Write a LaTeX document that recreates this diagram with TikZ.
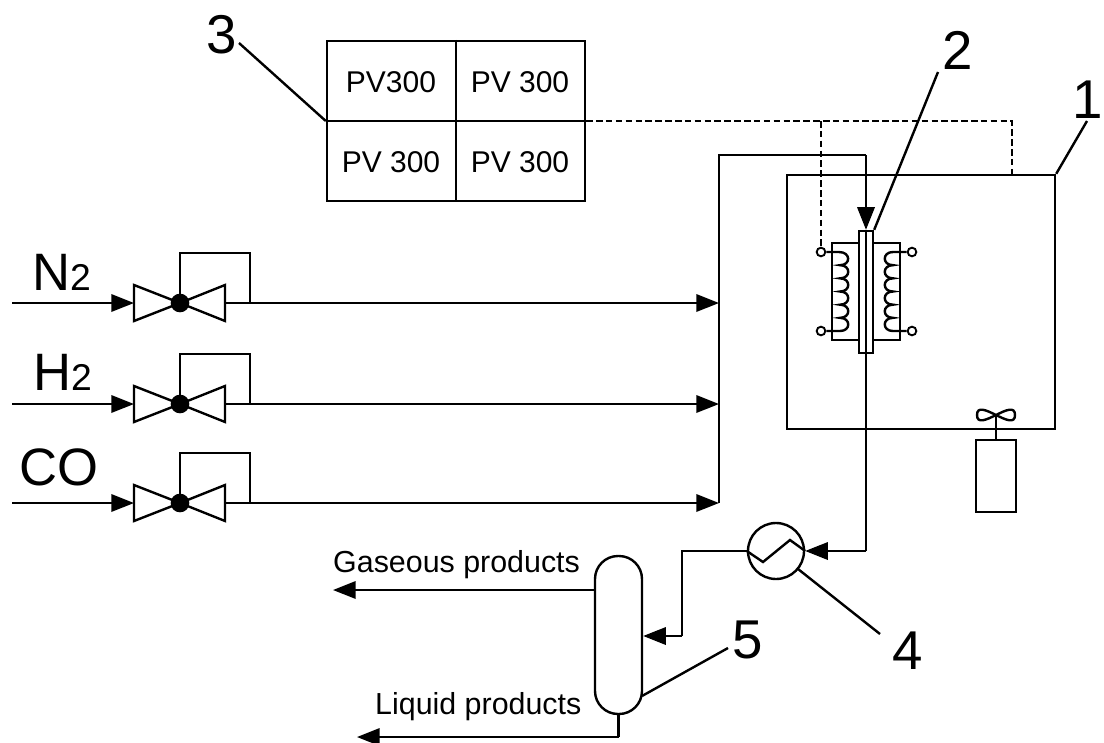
\documentclass[tikz,border=0pt]{standalone}
\usepackage{fontspec}
\setmainfont{Liberation Sans}
\usetikzlibrary{arrows.meta}
\tikzset{
  every path/.style={line width=1.8pt,black},
  flow/.style={draw,line width=1.8pt,-{Triangle[length=17pt,width=13pt]}},
  pipe/.style={draw,line width=1.8pt},
  signal/.style={draw,line width=1.5pt,dash pattern=on 4.9pt off 2.5pt},
  leader/.style={draw,line width=1.8pt},
  idx/.style={font=\fontsize{41}{41}\selectfont,inner sep=0pt},
  cell/.style={font=\fontsize{22.5}{24}\selectfont,inner sep=0pt},
  gaslabel/.style={font=\fontsize{39.5}{40}\selectfont,inner sep=0pt,anchor=base west},
  prodlabel/.style={font=\fontsize{22.8}{24}\selectfont,inner sep=0pt,anchor=base west},
  term/.style={circle,draw,fill=white,line width=1.4pt,inner sep=0pt,minimum size=6.5pt},
  valvedot/.style={circle,fill=black,inner sep=0pt,minimum size=14pt},
}
\newcommand{\gasline}[3]{% y, name, label
  \coordinate (#2in) at (12,#1);
  \coordinate (#2a) at (134,#1);
  \coordinate (#2c) at (180,#1);
  \coordinate (#2b) at (225,#1);
  \coordinate (#2t) at (250,#1);
  \coordinate (#2e) at (719,#1);
  \draw[line join=miter] (134,#1-18) -- (#2c) -- (134,#1+18) -- cycle;
  \draw[line join=miter] (225,#1-18) -- (#2c) -- (225,#1+18) -- cycle;
  \node[valvedot] (#2v) at (#2c) {};
  \path[flow] (#2in) -- (#2a);
  \path[pipe] (#2v.center) -- (180,#1-50) -- (250,#1-50) -- (#2t);
  \path[flow] (#2b) -- (#2e);
}
\begin{document}
\begin{tikzpicture}[x=0.75pt,y=-0.75pt]
\useasboundingbox (0,0) rectangle (1104,743);
% PV panel
\node[draw,line width=1.8pt,minimum width=193.5pt,minimum height=120pt,inner sep=0pt] (panel) at (456,121) {};
\draw (panel.north) -- (panel.south);
\draw (panel.west) -- (panel.east);
\node[cell] (p1) at (391,82) {PV300};
\node[cell] (p2) at (520,82) {PV 300};
\node[cell] (p3) at (391,162) {PV 300};
\node[cell] (p4) at (520,162) {PV 300};
% Furnace
\node[draw,line width=1.8pt,minimum width=201pt,minimum height=190.5pt,inner sep=0pt] (furn) at (921,302) {};
% signal
\coordinate (sigturn) at (1012,121);
\coordinate (sigdrop) at (1012,175);
\coordinate (sigbranch) at (821,121);
\node[term] (tl1) at (821,252) {};
\node[term] (tl2) at (821,331) {};
\node[term] (tr1) at (912,252) {};
\node[term] (tr2) at (912,331) {};
\path[signal] (panel.east) -- (sigturn) -- (sigdrop);
\path[signal] (sigbranch) -- (tl1.north);
% heater
\draw (859,243) -- (832,243) -- (832,340) -- (859,340);
\draw (873,243) -- (900,243) -- (900,340) -- (873,340);
\draw (tl1.east) -- (839,252)
  \foreach \k in {0,...,5}{ .. controls ({851},{252+\k*13.17}) and ({851},{252+\k*13.17+13.17}) .. ({840},{252+\k*13.17+13.17}) }
  -- (tl2.east);
\draw (tr1.west) -- (893,252)
  \foreach \k in {0,...,5}{ .. controls ({882},{252+\k*13.17}) and ({882},{252+\k*13.17+13.17}) .. ({893},{252+\k*13.17+13.17}) }
  -- (tr2.west);
% tube
\node[draw,fill=white,line width=1.8pt,minimum width=10.5pt,minimum height=91.5pt,inner sep=0pt] (tube) at (866,292) {};
\draw (tube.north) -- (tube.south);
% feed
\coordinate (mixb) at (719,503);
\coordinate (mixt) at (719,155);
\coordinate (mixr) at (866,155);
\draw (mixb) -- (mixt) -- (mixr);
\path[flow] (mixr) -- (tube.north);
% gases
\gasline{303}{n}{N}
\gasline{404}{h}{H}
\gasline{503}{c}{C}
\node[gaslabel] (ln) at (31,290) {N\fontsize{28}{28}\selectfont 2};
\node[gaslabel] (lh) at (32,390) {H\fontsize{28}{28}\selectfont 2};
\node[gaslabel] (lc) at (18,485) {CO};
% exchanger
\node[draw,circle,line width=1.8pt,minimum size=42pt,inner sep=0pt] (hx) at (776,551) {};
\coordinate (z1) at (763,562);
\coordinate (z2) at (790,540);
\draw[line join=miter] (hx.west) -- (z1) -- (z2) -- (hx.east);
\coordinate (hxc) at (866,551);
\coordinate (hxo) at (682,551);
\draw (tube.south) -- (hxc);
\path[flow] (hxc) -- (hx.east);
% separator
\node[draw,rounded corners=17.25pt,line width=1.8pt,minimum width=35.25pt,minimum height=118.5pt,inner sep=0pt] (sep) at (618.5,635) {};
\coordinate (sepin) at (682,636);
\draw (hx.west) -- (hxo) -- (sepin);
\path[flow] (sepin) -- (sep.east |- sepin);
\coordinate (gout) at (333,590);
\path[flow] (sep.west |- gout) -- (gout);
\coordinate (lturn) at (sep.south |- 0,737);
\coordinate (lout) at (357,737);
\draw (sep.south) -- (lturn);
\path[flow] (lturn) -- (lout);
\node[prodlabel] (lg) at (332,572) {Gaseous products};
\node[prodlabel] (ll) at (374,714) {Liquid products};
% fan
\node[draw,line width=1.8pt,minimum width=30pt,minimum height=54pt,inner sep=0pt] (mot) at (996,476) {};
\coordinate (fanhub) at (996,415);
\draw (mot.north) -- (fanhub);
\draw[line width=1.8pt] (fanhub) .. controls (986,410) and (977,406) .. (977,415) .. controls (977,424) and (986,420) .. (fanhub)
   .. controls (1006,410) and (1015,406) .. (1015,415) .. controls (1015,424) and (1006,420) .. (fanhub);
% index labels
\node[idx] (n3) at (222,35) {3};
\node[idx] (n2) at (958,50) {2};
\node[idx] (n1) at (1088,100) {1};
\node[idx] (n4) at (908,651) {4};
\node[idx] (n5) at (748,640) {5};
\coordinate (a3) at (239,43);
\coordinate (a2) at (938,72);
\coordinate (a1) at (1087,121);
\coordinate (a4) at (880,634);
\coordinate (a5) at (728,648);
\path[leader] (a3) -- (panel.west);
\path[leader] (a2) -- (tube.north east);
\path[leader] (a1) -- (furn.north east);
\path[leader] (a4) -- (798,569);
\path[leader] (a5) -- (642,696);
\end{tikzpicture}
\end{document}
